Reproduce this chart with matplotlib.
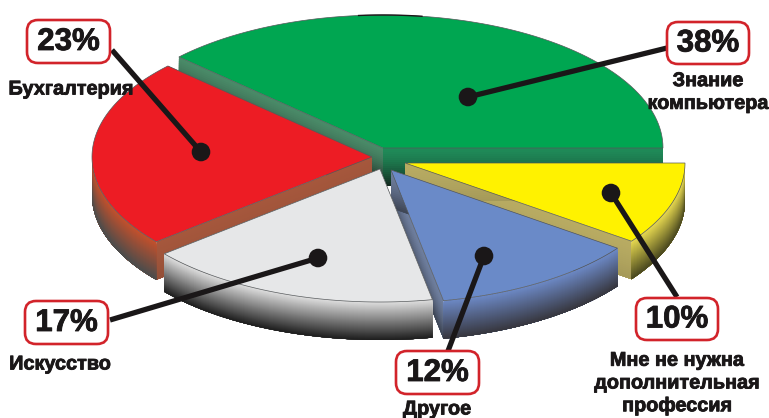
import numpy as np
import matplotlib
matplotlib.use("Agg")
import matplotlib.pyplot as plt
import matplotlib.patheffects as pe
from matplotlib.patches import Polygon, FancyBboxPatch, Circle

# --------------------------
# data
# --------------------------
shares = [38, 23, 17, 12, 10]
percent_labels = ["38%", "23%", "17%", "12%", "10%"]
names = ["Знание\nкомпьютера", "Бухгалтерия", "Искусство", "Другое",
         "Мне не нужна\nдополнительная\nпрофессия"]

# --------------------------
# look of the slices (pixel coordinates of the picture)
# --------------------------
RX, RY, DEPTH = 280, 133, 38
apex = [(383, 148), (372, 157), (380, 169), (391, 170), (405, 163)]
top_colors = ["#00a651", "#ed1c24", "#e6e7e8", "#6a8ac8", "#fff200"]
rim_colors = ["#2a8a5c", "#c4502c", "#dcdcdc", "#6c88c4", "#e6d850"]
rim_dark = ["#202020", "#4c4c4c", "#202020", "#383840", "#4c4a20"]
# cut faces at the start and at the end angle of each slice
cut_a0 = ["#1f8a58", "#a5573c", "#c0c0c0", "#6f7f9f", "#b8ab62"]
cut_a1 = ["#4a8a68", "#a5573c", "#c0c0c0", "#6f7f9f", "#b8ab62"]
cut_fade = [0.85, 0.12, 0.2, 0.55, 0.12]
draw_order = [0, 1, 4, 3, 2]

box_xy = [(667, 22, 749, 64), (27, 20, 110, 63), (25, 301, 108, 344),
          (396, 351, 479, 394), (636, 298, 718, 340)]
dots = [(468, 97), (201, 152), (318, 258), (484, 256), (611, 193)]
line_ends = [(667, 48), (112, 50), (110, 320), (448, 351), (677, 297)]
name_xy = [(708, 92), (71, 89), (60, 364), (437, 409), (677, 383)]

INK = "#1a1718"
FONT = ["Liberation Sans", "DejaVu Sans"]


def mix(c1, c2, t):
    a = np.array(matplotlib.colors.to_rgb(c1))
    b = np.array(matplotlib.colors.to_rgb(c2))
    return tuple(a + (b - a) * t)


def arc(cx, cy, a0, a1, n=80):
    t = np.radians(np.linspace(a0, a1, n))
    return np.column_stack([cx + RX * np.cos(t), cy - RY * np.sin(t)])


fig = plt.figure(figsize=(7.69, 4.18), dpi=100)
ax = fig.add_axes([0, 0, 1, 1])
ax.set_xlim(0, 769)
ax.set_ylim(418, 0)
ax.axis("off")

ends = np.cumsum(shares) / sum(shares) * 360
starts = np.concatenate([[0], ends[:-1]])

z = 1
for i in draw_order:
    cx, cy = apex[i]
    a0, a1 = starts[i], ends[i]
    rim = arc(cx, cy, a0, a1)

    # flat cut faces, shaded from top to bottom, each step paints over the rest
    for ang, c1 in [(a0, cut_a0[i]), (a1, cut_a1[i])]:
        edge = arc(cx, cy, ang, ang, 2)[1]
        steps = 19
        for s in range(steps):
            d0 = DEPTH * s / steps
            pts = [(cx, cy + d0), (edge[0], edge[1] + d0),
                   (edge[0], edge[1] + DEPTH), (cx, cy + DEPTH)]
            col = mix(c1, "#101010", cut_fade[i] * (s / steps) ** 1.5)
            ax.add_patch(Polygon(pts, closed=True, fc=col, ec="none", zorder=z))
            z += 1

    # outer wall: only the part in front is seen, green has none
    if i != 0:
        front = arc(cx, cy, max(a0, 180), a1) if a1 < 360 else arc(cx, cy, a0, a1)
        steps = 38
        for s in range(steps):
            d0 = DEPTH * s / steps
            up = front + [0, d0]
            low = front[::-1] + [0, DEPTH]
            col = mix(rim_colors[i], rim_dark[i], s / (steps - 1))
            ax.add_patch(Polygon(np.vstack([up, low]), closed=True, fc=col, ec="none", zorder=z))
            z += 1

    top = np.vstack([[(cx, cy)], rim])
    ax.add_patch(Polygon(top, closed=True, fc=top_colors[i], ec="#55585a", lw=0.5, zorder=z))
    z += 1

# dark bit on the back of the green rim
back = arc(apex[0][0], apex[0][1], 82, 95, 20)
ax.plot(back[:, 0], back[:, 1], color=INK, lw=1.0, zorder=z)

# --------------------------
# leader lines, boxes, texts
# --------------------------
heavy = [pe.withStroke(linewidth=0.6, foreground=INK)]
for i in range(len(shares)):
    x0, y0, x1, y1 = box_xy[i]
    ax.plot([dots[i][0], line_ends[i][0]], [dots[i][1], line_ends[i][1]],
            color=INK, lw=3.8, solid_capstyle="butt", zorder=2000)
    ax.add_patch(Circle(dots[i], 9.3, fc=INK, ec="none", zorder=2001))
    ax.add_patch(FancyBboxPatch((x0 + 11, y0 + 11), x1 - x0 - 22, y1 - y0 - 22,
                                boxstyle="round,pad=11", fc="white", ec="#d2232a",
                                lw=1.9, zorder=2002))
    ax.text((x0 + x1) / 2, (y0 + y1) / 2 + 0.5, percent_labels[i], family=FONT,
            fontsize=22.5, fontweight="bold", color=INK, ha="center", va="center",
            path_effects=heavy, zorder=2003)
    ax.text(name_xy[i][0], name_xy[i][1], names[i], family=FONT, fontsize=14.3,
            fontweight="bold", color=INK, ha="center", va="center",
            linespacing=1.25, path_effects=heavy, zorder=2004)

fig.savefig("out.png", dpi=100)
